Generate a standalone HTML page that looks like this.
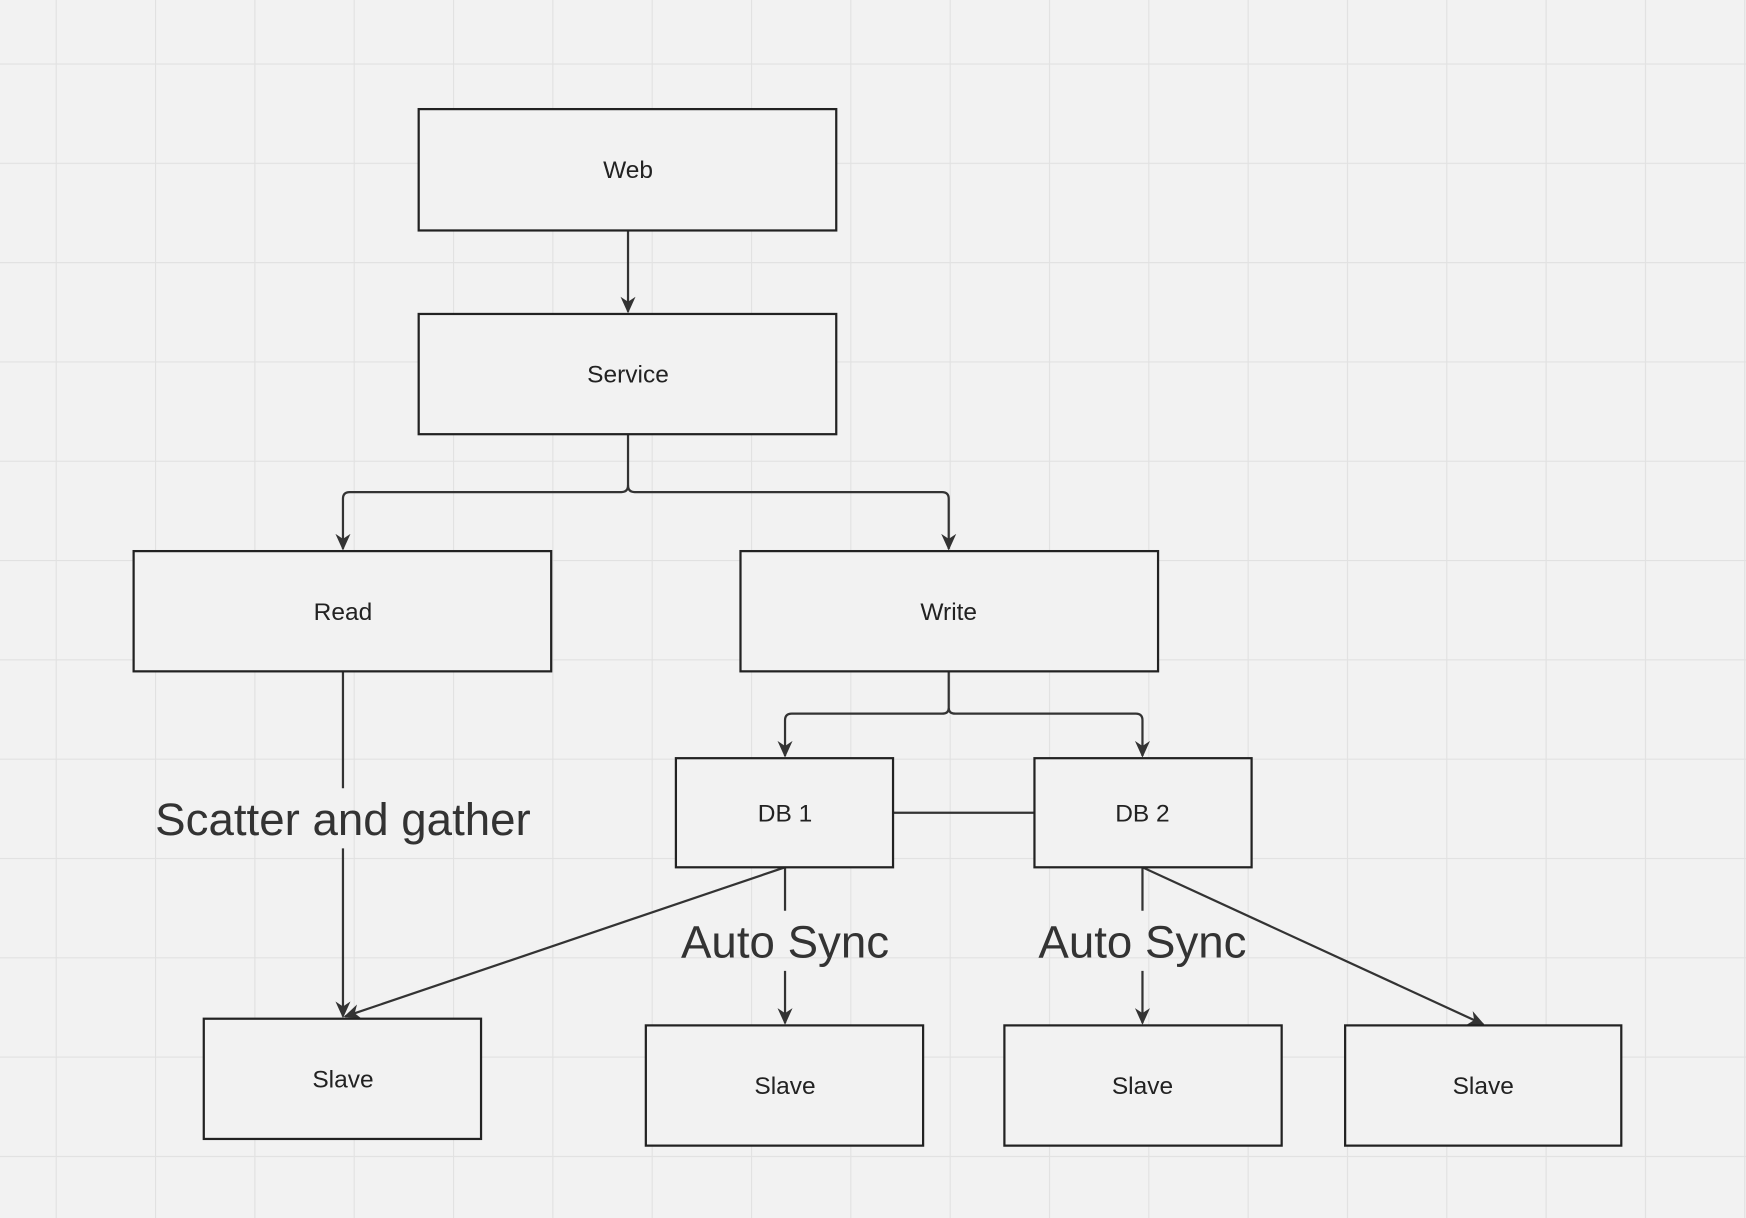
<!DOCTYPE html>
<html><head><style>html,body{margin:0;padding:0;background:#f2f2f2}svg{display:block}</style></head>
<body>
<svg width="1746" height="1218" viewBox="0 0 1568 1094" preserveAspectRatio="none" xmlns="http://www.w3.org/2000/svg" font-family="Liberation Sans, sans-serif">
<defs>
<pattern id="g" x="50" y="57" width="89.2" height="89.2" patternUnits="userSpaceOnUse">
<path d="M0 0H89.2M0 0V89.2" stroke="#e1e1e1" stroke-width="2" fill="none"/>
</pattern>
<marker id="a" viewBox="0 0 10 10" refX="9" refY="5" markerWidth="15" markerHeight="15" orient="auto" markerUnits="userSpaceOnUse">
<path d="M0 0.5L10 5L0 9.5L3 5Z" fill="#333"/>
</marker>
</defs>
<rect width="1568" height="1094" fill="#f2f2f2"/>
<rect width="1568" height="1094" fill="url(#g)"/>
<g fill="none" stroke="#333" stroke-width="2">
<path d="M564 207V280" marker-end="url(#a)"/>
<path d="M564 390V436Q564 442 558 442H314Q308 442 308 448V493" marker-end="url(#a)"/>
<path d="M564 436Q564 442 570 442H846Q852 442 852 448V493" marker-end="url(#a)"/>
<path d="M852 603V636Q852 641 846 641H711Q705 641 705 647V679" marker-end="url(#a)"/>
<path d="M852 636Q852 641 858 641H1020Q1026 641 1026 647V679" marker-end="url(#a)"/>
<path d="M802 730H929"/>
<path d="M308 603V708M308 762V913" marker-end="url(#a)"/>
<path d="M705 779L310 913" marker-end="url(#a)"/>
<path d="M705 779V818M705 872V919" marker-end="url(#a)"/>
<path d="M1026 779V818M1026 872V919" marker-end="url(#a)"/>
<path d="M1026 779L1332 920" marker-end="url(#a)"/>
</g>
<g fill="#f2f2f2" stroke="#222" stroke-width="2">
<rect x="376" y="98" width="375" height="109"/>
<rect x="376" y="282" width="375" height="108"/>
<rect x="120" y="495" width="375" height="108"/>
<rect x="665" y="495" width="375" height="108"/>
<rect x="607" y="681" width="195" height="98"/>
<rect x="929" y="681" width="195" height="98"/>
<rect x="183" y="915" width="249" height="108"/>
<rect x="580" y="921" width="249" height="108"/>
<rect x="902" y="921" width="249" height="108"/>
<rect x="1208" y="921" width="248" height="108"/>
</g>
<g fill="#222" font-size="22" text-anchor="middle" dominant-baseline="central">
<text x="564" y="153">Web</text>
<text x="564" y="337">Service</text>
<text x="308" y="550">Read</text>
<text x="852" y="550">Write</text>
<text x="705" y="731">DB 1</text>
<text x="1026" y="731">DB 2</text>
<text x="308" y="970">Slave</text>
<text x="705" y="976">Slave</text>
<text x="1026" y="976">Slave</text>
<text x="1332" y="976">Slave</text>
</g>
<g fill="#333" font-size="41" text-anchor="middle" dominant-baseline="central">
<text x="308" y="736">Scatter and gather</text>
<text x="705" y="846">Auto Sync</text>
<text x="1026" y="846">Auto Sync</text>
</g>
</svg>
</body></html>
